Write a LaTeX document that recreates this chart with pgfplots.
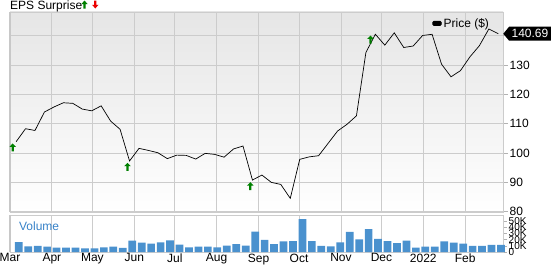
\documentclass[border=0pt]{standalone}
\usepackage{pgfplots}
\pgfplotsset{compat=1.18}
\usepackage{fontspec}
\setmainfont{Liberation Sans}
\usetikzlibrary{shapes.symbols}
\definecolor{barblue}{RGB}{74,145,206}
\definecolor{epsgreen}{RGB}{0,128,0}
\definecolor{epsred}{RGB}{235,0,0}
\definecolor{gridgray}{RGB}{204,204,204}
\definecolor{volblue}{RGB}{55,130,200}
\definecolor{bordergray}{RGB}{200,200,200}

\pgfdeclareplotmark{epsup}{%
 \pgfpathmoveto{\pgfqpoint{0pt}{4pt}}%
 \pgfpathlineto{\pgfqpoint{3.3pt}{0.6pt}}%
 \pgfpathlineto{\pgfqpoint{1.1pt}{0.6pt}}%
 \pgfpathlineto{\pgfqpoint{1.1pt}{-4pt}}%
 \pgfpathlineto{\pgfqpoint{-1.1pt}{-4pt}}%
 \pgfpathlineto{\pgfqpoint{-1.1pt}{0.6pt}}%
 \pgfpathlineto{\pgfqpoint{-3.3pt}{0.6pt}}%
 \pgfpathclose
 \pgfusepathqfill}

\pgfplotstableread{
day price
4.5 103.85
11.5 108.3
18.5 107.7
25.5 114.0
32.5 115.7
39.5 117.15
46.5 116.95
53.5 115.0
60.5 114.4
67.5 116.1
74.5 110.9
81.5 108.1
88.5 97.3
95.5 101.6
102.5 100.9
109.5 100.1
116.5 98.1
123.5 99.3
130.5 99.2
137.5 97.95
144.5 99.9
151.5 99.55
158.5 98.6
165.5 101.4
172.5 102.4
179.5 90.8
186.5 92.5
193.5 90.0
200.5 89.3
207.5 84.55
214.5 97.85
221.5 98.7
228.5 99.1
235.5 103.3
242.5 107.5
249.5 109.8
256.5 112.7
263.5 134.3
270.5 140.5
277.5 136.8
284.5 141.0
291.5 136.0
298.5 136.5
305.5 140.1
312.5 140.5
319.5 130.3
326.5 126.0
333.5 128.1
340.5 132.8
347.5 136.6
354.5 142.3
361.5 140.69
}\pricedata

\pgfplotstableread{
day vol
6.5 16.1
13.5 9.1
20.5 9.7
27.5 8.6
34.5 7.0
41.5 7.0
48.5 7.0
55.5 5.9
62.5 5.9
69.5 7.5
76.5 8.6
83.5 6.5
90.5 18.3
97.5 15.0
104.5 13.4
111.5 15.6
118.5 18.8
125.5 11.8
132.5 7.5
139.5 8.6
146.5 8.8
153.5 7.5
160.5 10.2
167.5 12.9
174.5 10.2
181.5 32.8
188.5 19.4
195.5 12.9
202.5 17.2
209.5 17.7
216.5 53.2
223.5 17.7
230.5 9.7
237.5 9.1
244.5 15.6
251.5 32.3
258.5 20.4
265.5 37.1
272.5 21.0
279.5 17.7
286.5 14.5
293.5 18.3
300.5 7.0
307.5 8.6
314.5 8.6
321.5 17.2
328.5 15.0
335.5 13.4
342.5 9.7
349.5 9.7
356.5 11.3
363.5 11.3
}\voldata

\pgfplotstableread{
day price
2.0 101.9
87.0 95.3
177.9 88.7
266.9 138.7
}\epsdata

\begin{document}
\begin{tikzpicture}
\useasboundingbox (0,0) rectangle (552pt,266pt);
\begin{axis}[
  at={(10pt,54pt)}, anchor=south west,
  scale only axis, width=493pt, height=200pt,
  xmin=0, xmax=365, ymin=79.9, ymax=148.1,
  xtick={0,31,61,92,122,153,184,214,245,275,306,337},
  xticklabels={},
  ytick={80,90,...,130},
  extra y ticks={140},
  extra y tick labels={},
  yticklabel pos=right,
  ytick pos=right,
  tick align=outside,
  x tick style={draw=none},
  y tick style={draw=gray!60, line width=0.6pt},
  major tick length=5pt,
  grid=major,
  major grid style={draw=gridgray, line width=0.8pt},
  extra y tick style={grid=major, major grid style={draw=gridgray, line width=0.8pt}},
  axis line style={draw=gridgray, line width=0.8pt},
  axis background/.style={top color=gray!20, middle color=gray!3, bottom color=white},
  tick label style={font=\fontsize{12}{14}\selectfont},
  /pgf/number format/assume math mode=true,
  yticklabel style={inner sep=1.5pt},
  clip=false,
  legend style={at={(rel axis cs:0.978,0.985)}, anchor=north east, draw=none, fill=none,
    font=\fontsize{12}{14}\selectfont, inner sep=1pt},
  legend cell align=left,
]
\addplot[black, line width=0.7pt, mark=none,
  legend image code/.code={\fill[black,rounded corners=1.2pt] (0pt,-2.2pt) rectangle (8.5pt,2.2pt);}]
  table[x=day,y=price] {\pricedata};
\addlegendentry{Price (\$)}
\addplot[only marks, mark=epsup, color=epsgreen, forget plot] table[x=day,y=price] {\epsdata};
\draw[bordergray, line width=2.6pt] (rel axis cs:0,0) -- (rel axis cs:0,1);
\node[signal, signal to=west, signal pointer angle=100, fill=black, text=white,
  inner xsep=2.5pt, inner ysep=2pt, minimum height=14pt, anchor=west,
  font=\fontsize{12}{14}\selectfont] at (axis cs:365,140.69) {140.69};
\end{axis}

\begin{axis}[
  at={(10pt,14pt)}, anchor=south west,
  scale only axis, width=493pt, height=37pt,
  xmin=0, xmax=365, ymin=0, ymax=59.7,
  xtick={0,31,61,92,122,153,184,214,245,275,306,337},
  xticklabels={Mar,Apr,May,Jun,Jul,Aug,Sep,Oct,Nov,Dec,2022,Feb},
  ytick={0,10,20,30,40,50},
  yticklabels={0,10K,20K,30K,40K,50K},
  yticklabel pos=right,
  ytick pos=right,
  tick align=outside,
  x tick style={draw=none},
  y tick style={draw=gray!60, line width=0.6pt},
  major tick length=4pt,
  xmajorgrids,
  major grid style={draw=gridgray, line width=0.8pt},
  axis line style={draw=gridgray, line width=0.8pt},
  xticklabel style={font=\fontsize{12}{14}\selectfont, inner sep=0pt, yshift=2.5pt},
  yticklabel style={font=\fontsize{10}{12}\selectfont, inner sep=1.5pt},
  /pgf/number format/assume math mode=true,
  clip=false,
]
\addplot[ybar, bar width=5.7, fill=barblue, draw=none] table[x=day,y=vol] {\voldata};
\draw[bordergray, line width=2.6pt] (rel axis cs:0,0) -- (rel axis cs:0,1);
\node[anchor=west, text=volblue, font=\fontsize{12}{14}\selectfont, inner sep=0pt]
  at (rel axis cs:0.018,0.7) {Volume};
\end{axis}

\node[anchor=base west, inner sep=0pt, font=\fontsize{12}{14}\selectfont] at (10pt,257pt) {EPS Surprise};
\fill[epsgreen] (84.5pt,265.5pt) -- (87.7pt,261.8pt) -- (85.6pt,261.8pt) -- (85.6pt,257.5pt)
  -- (83.4pt,257.5pt) -- (83.4pt,261.8pt) -- (81.3pt,261.8pt) -- cycle;
\fill[epsred] (95.3pt,257.5pt) -- (98.5pt,261.2pt) -- (96.4pt,261.2pt) -- (96.4pt,265.5pt)
  -- (94.2pt,265.5pt) -- (94.2pt,261.2pt) -- (92.1pt,261.2pt) -- cycle;
\end{tikzpicture}
\end{document}
